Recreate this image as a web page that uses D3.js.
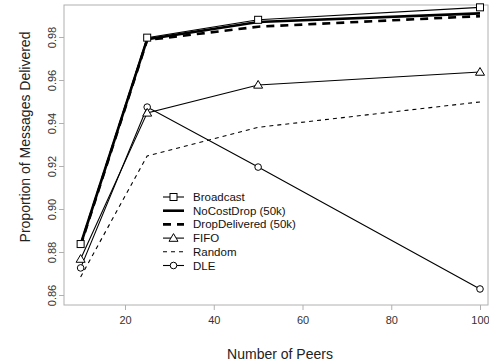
<!DOCTYPE html>
<html><head><meta charset="utf-8">
<script src="https://cdn.jsdelivr.net/npm/d3@7"></script>
<style>body{margin:0;background:#fff}svg{display:block}text{font-family:"Liberation Sans",Arial,sans-serif}</style>
</head><body><svg id="c" width="489" height="364"></svg>
<script>
const peers = [10, 25, 50, 100];
const broadcast = [0.8837, 0.9797, 0.9880, 0.9938];
const noCostDrop = [0.8835, 0.9790, 0.9870, 0.9910];
const dropDelivered = [0.8830, 0.9786, 0.9848, 0.9897];
const fifo = [0.8767, 0.9447, 0.9577, 0.9637];
const random = [0.8684, 0.9247, 0.9380, 0.9498];
const dle = [0.8726, 0.9474, 0.9195, 0.8628];
const xTicks = [20, 40, 60, 80, 100];
const yTicks = [0.86, 0.88, 0.90, 0.92, 0.94, 0.96, 0.98];
const seriesNames = ["Broadcast", "NoCostDrop (50k)", "DropDelivered (50k)", "FIFO", "Random", "DLE"];

const series = [
  {name: seriesNames[0], values: broadcast, width: 1.1, dash: null, marker: "square"},
  {name: seriesNames[1], values: noCostDrop, width: 2.6, dash: null, marker: null},
  {name: seriesNames[2], values: dropDelivered, width: 2.6, dash: "8,6", marker: null},
  {name: seriesNames[3], values: fifo, width: 1.1, dash: null, marker: "triangle"},
  {name: seriesNames[4], values: random, width: 1.1, dash: "4,4", marker: null},
  {name: seriesNames[5], values: dle, width: 1.1, dash: null, marker: "circle"}
];

const L = 64, R = 488, T = 5, B = 305;
const x = d3.scaleLinear().domain([20, 100]).range([125, 480]);
const y = d3.scaleLinear().domain([0.86, 0.98]).range([295, 37]);
const svg = d3.select("#c");

// box
svg.append("rect").attr("x", L).attr("y", T).attr("width", R - L).attr("height", B - T)
  .attr("fill", "none").attr("stroke", "#b0b0b0").attr("stroke-width", 1);

// axes
const xa = svg.append("g").attr("transform", `translate(0,${B})`)
  .call(d3.axisBottom(x).tickValues(xTicks).tickSize(5).tickPadding(6).tickFormat(d3.format("d")));
const ya = svg.append("g").attr("transform", `translate(${L},0)`)
  .call(d3.axisLeft(y).tickValues(yTicks).tickSize(5).tickPadding(4).tickFormat(d3.format(".2f")));
[xa, ya].forEach(a => {
  a.select(".domain").remove();
  a.selectAll("line").attr("stroke", "#b0b0b0");
  a.selectAll("text").attr("fill", "#333").style("font-size", "11px").style("font-family", '"Liberation Sans",Arial,sans-serif');
});
ya.selectAll("text").attr("text-anchor", "middle").attr("x", 0).attr("y", 0).attr("dy", null)
  .attr("transform", "translate(-8,0) rotate(-90)");

// titles
svg.append("text").attr("x", 280).attr("y", 359).attr("text-anchor", "middle")
  .style("font-size", "14px").attr("fill", "#222").text("Number of Peers");
svg.append("text").attr("transform", "translate(30,137) rotate(-90)").attr("text-anchor", "middle")
  .style("font-size", "14px").attr("fill", "#222").text("Proportion of Messages Delivered");

const line = d3.line().x((d, i) => x(peers[i])).y(d => y(d));
const g = svg.append("g");

function drawMarker(sel, type, cx, cy) {
  if (type === "square") sel.append("rect").attr("x", cx - 3.5).attr("y", cy - 3.5).attr("width", 7).attr("height", 7)
    .attr("fill", "#fff").attr("stroke", "#000").attr("stroke-width", 1);
  else if (type === "triangle") sel.append("path").attr("d", `M${cx},${cy - 4.5}L${cx + 4.5},${cy + 3.2}L${cx - 4.5},${cy + 3.2}Z`)
    .attr("fill", "#fff").attr("stroke", "#000").attr("stroke-width", 1);
  else if (type === "circle") sel.append("circle").attr("cx", cx).attr("cy", cy).attr("r", 3.3)
    .attr("fill", "#fff").attr("stroke", "#000").attr("stroke-width", 1);
}

const order = [4, 5, 3, 2, 1, 0];
order.forEach(k => {
  const s = series[k];
  g.append("path").datum(s.values).attr("d", line).attr("fill", "none").attr("stroke", "#000")
    .attr("stroke-width", s.width).attr("stroke-dasharray", s.dash);
});
order.forEach(k => {
  const s = series[k];
  if (s.marker) s.values.forEach((v, i) => drawMarker(g, s.marker, x(peers[i]), y(v)));
});

// legend
const lg = svg.append("g");
series.forEach((s, i) => {
  const yy = 197 + i * 13.7;
  lg.append("line").attr("x1", 163).attr("x2", 184).attr("y1", yy).attr("y2", yy)
    .attr("stroke", "#000").attr("stroke-width", s.width).attr("stroke-dasharray", s.dash);
  if (s.marker) drawMarker(lg, s.marker, 173.5, yy);
  lg.append("text").attr("x", 193).attr("y", yy).attr("dy", "0.35em").style("font-size", "11.5px")
    .attr("fill", "#111").text(s.name);
});
</script></body></html>
